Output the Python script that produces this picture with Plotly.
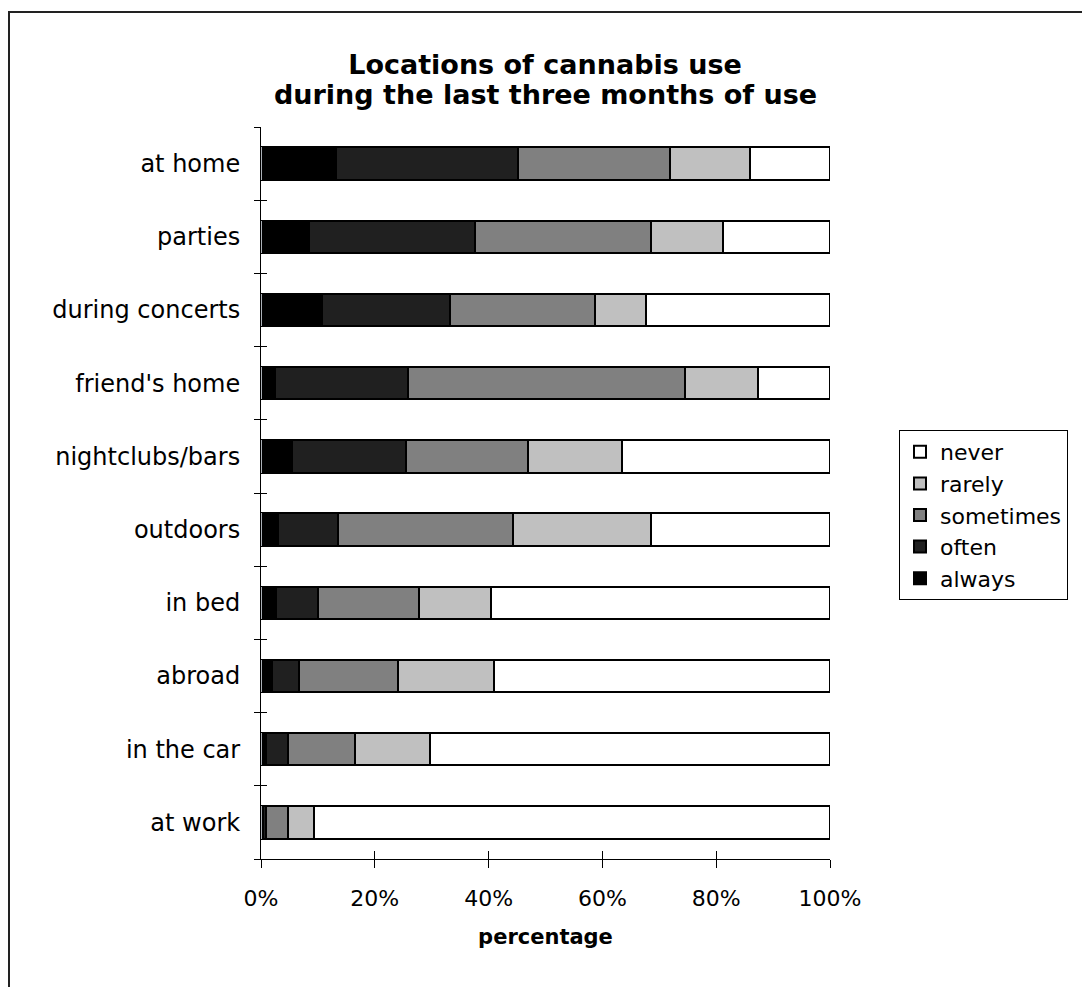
import plotly.graph_objects as go

# Locations, top to bottom
locations = ["at home", "parties", "during concerts", "friend's home", "nightclubs/bars",
             "outdoors", "in bed", "abroad", "in the car", "at work"]

# Share of respondents (%) per frequency level
always = [13.2, 8.5, 10.8, 2.4, 5.4, 2.9, 2.6, 2.0, 0.9, 0.3]
often = [31.9, 29.1, 22.5, 23.5, 20.0, 10.7, 7.4, 4.7, 3.9, 0.6]
sometimes = [26.7, 30.9, 25.4, 48.7, 21.6, 30.6, 17.7, 17.3, 11.7, 3.9]
rarely = [14.2, 12.7, 8.9, 12.7, 16.4, 24.3, 12.8, 17.0, 13.2, 4.6]
never = [14.0, 18.8, 32.4, 12.7, 36.6, 31.5, 59.5, 59.0, 70.3, 90.6]

x_ticks = [0, 20, 40, 60, 80, 100]
x_tick_text = ["0%", "20%", "40%", "60%", "80%", "100%"]

title_lines = ["Locations of cannabis use", "during the last three months of use"]

series = [
    ("always", always, "#000000"),
    ("often", often, "#202020"),
    ("sometimes", sometimes, "#808080"),
    ("rarely", rarely, "#c0c0c0"),
    ("never", never, "#ffffff"),
]

FONT = "DejaVu Sans"

fig = go.Figure()
for name, vals, color in series:
    fig.add_trace(go.Bar(
        y=locations, x=vals, name=name, orientation="h",
        marker=dict(color=color, line=dict(color="#000000", width=2)),
    ))

# invisible companion trace carrying the inner half of the crossing tick marks
fig.add_trace(go.Bar(y=locations, x=[0] * len(locations), orientation="h",
                     xaxis="x2", yaxis="y2", showlegend=False,
                     marker=dict(color="rgba(0,0,0,0)"), hoverinfo="skip"))

L, R, T, B = 261, 252, 127, 128
W, H = 1082, 987
pw, ph = W - L - R, H - T - B


def px_x(p):
    return (p - L) / pw


def px_y(p):
    return (H - B - p) / ph


title_font = dict(family=FONT, size=27, color="#000000")

fig.update_layout(
    width=W, height=H,
    margin=dict(l=L, r=R, t=T, b=B),
    barmode="stack", bargap=0.555,
    paper_bgcolor="white", plot_bgcolor="white",
    font=dict(family=FONT, size=22, color="#000000"),
    title=dict(
        text="<b>%s</b>" % title_lines[0],
        x=545 / W, xref="container", xanchor="center",
        y=1 - 65 / H, yref="container", yanchor="middle",
        font=title_font,
    ),
    annotations=[dict(
        text="<b>%s</b>" % title_lines[1], showarrow=False,
        xref="paper", yref="paper", x=px_x(545), y=px_y(95),
        xanchor="center", yanchor="middle", font=title_font,
    )],
    xaxis=dict(
        range=[0, 100], tickvals=x_ticks, ticktext=x_tick_text,
        showgrid=False, zeroline=False, showline=True, linecolor="#000000", linewidth=1,
        ticks="outside", ticklen=8, tickcolor="#000000", ticklabelstandoff=12,
        title=dict(text="<b>percentage</b>", font=dict(family=FONT, size=21), standoff=18),
        tickfont=dict(family=FONT, size=22),
    ),
    yaxis=dict(
        categoryorder="array", categoryarray=locations[::-1],
        showgrid=False, zeroline=False, showline=True, linecolor="#000000", linewidth=1,
        ticks="outside", tickson="boundaries", ticklen=6, tickcolor="#000000",
        ticklabelstandoff=15, tickfont=dict(family=FONT, size=24),
    ),
    xaxis2=dict(overlaying="x", range=[0, 100], tickvals=x_ticks, showticklabels=False,
                showgrid=False, zeroline=False, ticks="inside", ticklen=8,
                tickcolor="#000000", side="bottom"),
    yaxis2=dict(overlaying="y", categoryorder="array", categoryarray=locations[::-1],
                showticklabels=False, showgrid=False, zeroline=False,
                ticks="inside", tickson="boundaries", ticklen=6, tickcolor="#000000",
                side="left"),
    legend=dict(
        x=px_x(899), y=px_y(430), xanchor="left", yanchor="top",
        traceorder="reversed", bordercolor="#000000", borderwidth=1,
        font=dict(family=FONT, size=22), bgcolor="white",
        itemwidth=30, tracegroupgap=0,
    ),
    shapes=[dict(type="rect", xref="paper", yref="paper",
                 x0=px_x(9), x1=px_x(1095), y0=px_y(1000), y1=px_y(12),
                 line=dict(color="#222222", width=2), layer="below")],
    showlegend=True,
)

fig.write_html("out.html")
